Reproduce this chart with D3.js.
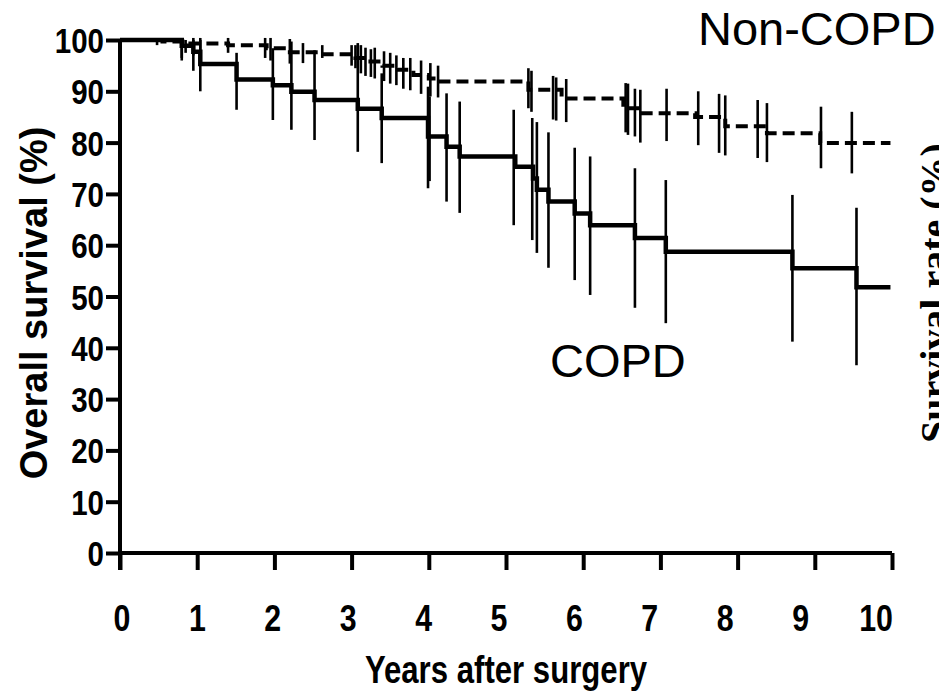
<!DOCTYPE html>
<html>
<head>
<meta charset="utf-8">
<script src="https://cdn.jsdelivr.net/npm/d3@7"></script>
<style>
  body { margin: 0; background: #fff; }
  svg { display: block; }
</style>
</head>
<body>
<div id="chart"></div>
<script>
// axis ticks
const xTicks = [0, 1, 2, 3, 4, 5, 6, 7, 8, 9, 10];
const yTicks = [0, 10, 20, 30, 40, 50, 60, 70, 80, 90, 100];

// COPD curve: [years, survival %]
const copdSteps = [
  [0, 100], [0.80, 98.9], [0.95, 97.7], [1.04, 95.3], [1.51, 92.3], [1.98, 91.2],
  [2.22, 89.9], [2.52, 88.3], [3.08, 86.6], [3.39, 84.8], [3.99, 81.2], [4.23, 79.2],
  [4.40, 77.3], [5.12, 75.3], [5.35, 73.0], [5.40, 70.8], [5.55, 68.5], [5.89, 66.2],
  [6.09, 63.9], [6.67, 61.4], [7.07, 58.7], [8.71, 55.5], [9.54, 51.8], [9.98, 51.8]
];
// COPD error bars: [years, low, high]
const copdBars = [
  [0.80, 96, 100], [0.95, 94, 100], [1.04, 90, 100], [1.51, 86.4, 97.5], [1.98, 84.4, 98.4],
  [2.22, 82.5, 99.7], [2.52, 80.5, 98], [3.08, 78.2, 99.4], [3.39, 76, 93.5], [3.99, 71.1, 90.9],
  [4.01, 72.5, 89], [4.23, 68.5, 89.6], [4.40, 66.3, 88], [5.10, 63.9, 86.4], [5.34, 61, 84.8],
  [5.40, 58.5, 84], [5.55, 55.6, 82], [5.89, 53.2, 79], [6.09, 50.3, 77.3], [6.67, 47.8, 75],
  [7.07, 44.8, 72.7], [8.71, 41.2, 69.8], [9.54, 36.6, 67.3]
];

// Non-COPD curve
const nonCopdSteps = [
  [0, 100], [0.55, 99.7], [0.85, 99.3], [1.40, 99.0], [1.90, 98.4], [2.20, 97.6],
  [2.60, 97.2], [3.05, 96.5], [3.20, 95.8], [3.40, 95.0], [3.60, 94.2], [3.80, 93.2],
  [4.00, 92.5], [4.15, 91.9], [5.29, 90.3], [5.72, 88.6], [6.52, 86.7], [6.74, 85.7],
  [7.45, 85.0], [7.84, 83.2], [8.38, 81.8], [9.07, 79.9], [9.98, 79.9]
];
const nonCopdBars = [
  [0.48, 99, 100.3], [0.80, 96.5, 100.3], [0.85, 97.5, 100], [0.95, 97, 100.4], [1.04, 97.5, 100.4],
  [1.40, 97.5, 100.4], [1.88, 96.5, 100.4], [1.95, 96, 100.4], [2.20, 95.4, 100.2], [2.37, 95.5, 99.4],
  [2.62, 96.5, 99], [3.00, 95, 99], [3.05, 94.5, 99], [3.12, 93.5, 99], [3.18, 93, 98.5],
  [3.25, 92.8, 98.2], [3.30, 92.5, 98.5], [3.42, 92, 97.8], [3.50, 91.5, 97.5], [3.58, 91.2, 97],
  [3.67, 90.5, 96.5], [3.76, 90.2, 96.5], [3.90, 89.5, 96], [4.02, 89, 95.5], [4.12, 88.8, 95],
  [5.29, 86.7, 94.5], [5.33, 86, 94], [5.61, 84.5, 93], [5.65, 84.3, 92.7], [5.78, 84, 92.4],
  [6.55, 82, 91.6], [6.58, 81.5, 91.5], [6.67, 81.2, 90.5], [6.74, 80, 90.3], [7.08, 80.3, 90.5],
  [7.49, 79.5, 90], [7.76, 78, 89.5], [7.84, 77.5, 89.2], [8.26, 77, 88.3], [8.38, 76.2, 87.7],
  [9.08, 75, 87], [9.48, 74, 86]
];

const width = 939;
const height = 691;

const svg = d3.select("#chart")
  .append("svg")
  .attr("width", width)
  .attr("height", height);

const x = d3.scaleLinear().domain([0, 10]).range([120, 892]);
const y = d3.scaleLinear().domain([0, 100]).range([553, 40]);
// tick labels sit a little left of their ticks in the original
const xLabel = d3.scaleLinear().domain([0, 10]).range([122, 876]);

const sans = "'Liberation Sans', Arial, Helvetica, sans-serif";
const narrow = 0.82; // the original uses a condensed bold face

// y axis
const yAxis = svg.append("g")
  .attr("transform", `translate(${x(0)},0)`)
  .call(d3.axisLeft(y).tickValues(yTicks).tickSize(14).tickFormat(""));
yAxis.select(".domain").attr("stroke", "#000").attr("stroke-width", 4)
  .attr("d", `M0,${y(100)}V${y(0) + 17}`);
yAxis.selectAll(".tick line").attr("stroke", "#000").attr("stroke-width", 4);

svg.append("g")
  .selectAll("text")
  .data(yTicks)
  .join("text")
  .attr("transform", d => `translate(${x(0) - 16},${y(d) + 13}) scale(${narrow},1)`)
  .attr("text-anchor", "end")
  .style("font-family", sans)
  .style("font-weight", "bold")
  .style("font-size", "36px")
  .text(d => d);

// x axis
const xAxis = svg.append("g")
  .attr("transform", `translate(0,${y(0)})`)
  .call(d3.axisBottom(x).tickValues(xTicks).tickSize(17).tickFormat(""));
xAxis.select(".domain").attr("stroke", "#000").attr("stroke-width", 4)
  .attr("d", `M${x(0)},0H${x(10)}`);
xAxis.selectAll(".tick line").attr("stroke", "#000").attr("stroke-width", 4);

svg.append("g")
  .selectAll("text")
  .data(xTicks)
  .join("text")
  .attr("transform", d => `translate(${xLabel(d)},631) scale(${narrow},1)`)
  .attr("text-anchor", "middle")
  .style("font-family", sans)
  .style("font-weight", "bold")
  .style("font-size", "37px")
  .text(d => d);

// axis titles
svg.append("text")
  .attr("transform", `translate(506,683) scale(${narrow},1)`)
  .attr("text-anchor", "middle")
  .style("font-family", sans)
  .style("font-weight", "bold")
  .style("font-size", "38px")
  .text("Years after surgery");

svg.append("text")
  .attr("transform", "translate(47,303) rotate(-90)")
  .attr("text-anchor", "middle")
  .style("font-family", sans)
  .style("font-weight", "bold")
  .style("font-size", "38px")
  .text("Overall survival (%)");

// curves
const step = d3.line()
  .x(d => x(d[0]))
  .y(d => y(d[1]))
  .curve(d3.curveStepAfter);

function drawBars(data) {
  svg.append("g")
    .selectAll("line")
    .data(data)
    .join("line")
    .attr("x1", d => x(d[0]))
    .attr("x2", d => x(d[0]))
    .attr("y1", d => y(d[1]))
    .attr("y2", d => y(d[2]))
    .attr("stroke", "#000")
    .attr("stroke-width", 2.6);
}

drawBars(nonCopdBars);
drawBars(copdBars);

svg.append("path")
  .datum(nonCopdSteps)
  .attr("fill", "none")
  .attr("stroke", "#000")
  .attr("stroke-width", 4)
  .attr("stroke-dasharray", "12,6")
  .attr("d", step);

svg.append("path")
  .datum(copdSteps)
  .attr("fill", "none")
  .attr("stroke", "#000")
  .attr("stroke-width", 4.5)
  .attr("d", step);

// group labels
svg.append("text")
  .attr("x", 698)
  .attr("y", 45)
  .style("font-family", sans)
  .style("font-size", "47px")
  .text("Non-COPD");

svg.append("text")
  .attr("x", 550)
  .attr("y", 377)
  .style("font-family", sans)
  .style("font-size", "47px")
  .text("COPD");

// clipped axis title of the neighbouring panel
svg.append("text")
  .attr("transform", "translate(948,443) rotate(-90)")
  .style("font-family", "'Liberation Serif', 'Times New Roman', serif")
  .style("font-weight", "bold")
  .style("font-size", "40px")
  .text("Survival rate (%)");
</script>
</body>
</html>
